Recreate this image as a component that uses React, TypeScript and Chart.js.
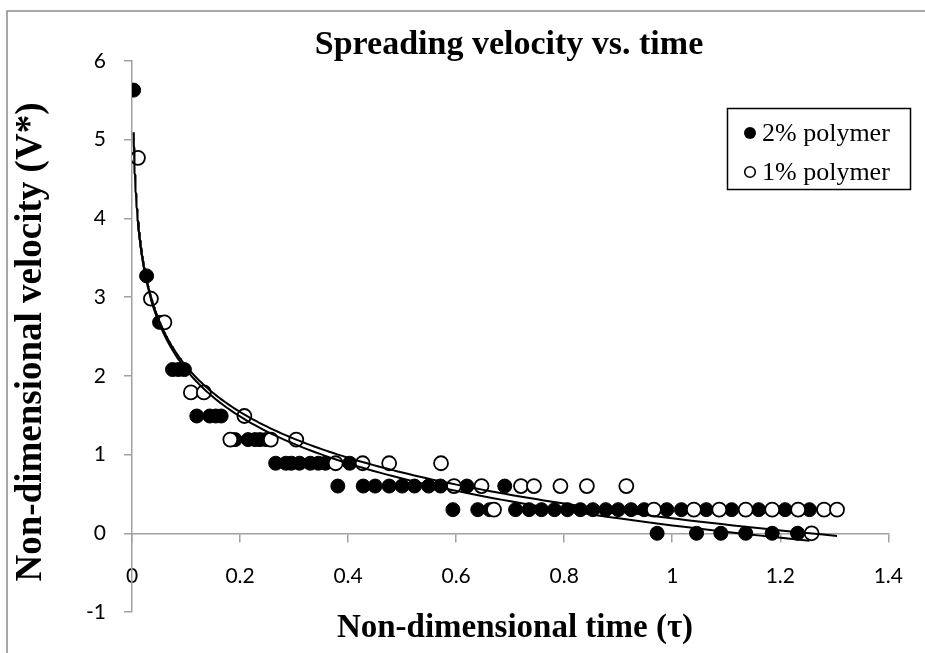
import React, { useEffect, useRef } from "react";
import { Chart, registerables } from "chart.js";

Chart.register(...registerables);

// ---- Data ----
const chartTitle = "Spreading velocity vs. time";
const xAxisTitle = "Non-dimensional time (τ)";
const yAxisTitle = "Non-dimensional velocity (V*)";
const seriesNames = ["2% polymer", "1% polymer"];

const xTickValues = [0, 0.2, 0.4, 0.6, 0.8, 1, 1.2, 1.4];
const yTickValues = [-1, 0, 1, 2, 3, 4, 5, 6];

// 2% polymer (filled)
const poly2X = [
  0.003, 0.027, 0.051, 0.075, 0.086, 0.097, 0.12, 0.144, 0.155, 0.165,
  0.191, 0.215, 0.228, 0.237, 0.248, 0.266, 0.285, 0.295, 0.31, 0.33,
  0.345, 0.358, 0.381, 0.403, 0.428, 0.45, 0.476, 0.5, 0.523, 0.549,
  0.571, 0.594, 0.62, 0.64, 0.662, 0.69, 0.71, 0.735, 0.758, 0.782,
  0.806, 0.83, 0.853, 0.877, 0.9, 0.924, 0.948, 0.972, 0.99, 1.017,
  1.045, 1.063, 1.09, 1.11, 1.136, 1.16, 1.185, 1.209, 1.232, 1.254,
];
const poly2Y = [
  5.63, 3.27, 2.68, 2.08, 2.08, 2.08, 1.49, 1.49, 1.49, 1.49,
  1.19, 1.19, 1.19, 1.19, 1.19, 0.89, 0.89, 0.89, 0.89, 0.89,
  0.89, 0.89, 0.6, 0.89, 0.6, 0.6, 0.6, 0.6, 0.6, 0.6,
  0.6, 0.3, 0.6, 0.3, 0.3, 0.6, 0.3, 0.3, 0.3, 0.3,
  0.3, 0.3, 0.3, 0.3, 0.3, 0.3, 0.3, 0, 0.3, 0.3,
  0, 0.3, 0, 0.3, 0, 0.3, 0, 0.3, 0, 0.3,
];

// 1% polymer (open)
const poly1X = [
  0.011, 0.035, 0.06, 0.109, 0.133, 0.182, 0.208, 0.257, 0.304, 0.377,
  0.427, 0.476, 0.572, 0.596, 0.647, 0.67, 0.72, 0.744, 0.793, 0.842,
  0.915, 0.966, 1.04, 1.087, 1.136, 1.185, 1.233, 1.258, 1.281, 1.305,
];
const poly1Y = [
  4.77, 2.98, 2.68, 1.79, 1.79, 1.19, 1.49, 1.19, 1.19, 0.89,
  0.89, 0.89, 0.89, 0.6, 0.6, 0.3, 0.6, 0.6, 0.6, 0.6,
  0.6, 0.3, 0.3, 0.3, 0.3, 0.3, 0.3, 0, 0.3, 0.3,
];

// Logarithmic trendlines y = a + b ln(x), coefficients
const trend2Coef = { a: 0.1, b: -0.86 };
const trend1Coef = { a: 0.19, b: -0.84 };

// ---- Helpers ----
function toPoints(xs: number[], ys: number[]) {
  return xs.map((x, i) => ({ x, y: ys[i] }));
}

// Trendline drawn over the x range of its series
function logTrend(xs: number[], coef: { a: number; b: number }, samples = 240) {
  const pos = xs.filter((x) => x > 0);
  const min = Math.min(...pos);
  const max = Math.max(...pos);
  const pts: { x: number; y: number }[] = [];
  for (let k = 0; k <= samples; k++) {
    const x = min * Math.pow(max / min, k / samples);
    pts.push({ x, y: coef.a + coef.b * Math.log(x) });
  }
  return pts;
}

const SERIF = '"Liberation Serif", "Times New Roman", serif';
const SANS = 'Lato, "Open Sans", sans-serif';

const decorPlugin = {
  id: "decor",
  beforeDraw(chart: any) {
    const ctx = chart.ctx;
    ctx.save();
    ctx.fillStyle = "#ffffff";
    ctx.fillRect(0, 0, chart.width, chart.height);
    ctx.strokeStyle = "#8c8c8c";
    ctx.lineWidth = 1.5;
    ctx.strokeRect(7, 11, chart.width + 20, chart.height + 20);
    ctx.restore();
  },
  afterDraw(chart: any) {
    const ctx = chart.ctx;
    ctx.save();
    ctx.fillStyle = "#000";
    ctx.textAlign = "center";
    ctx.textBaseline = "middle";
    // Title
    ctx.font = `bold 34px ${SERIF}`;
    ctx.fillText(chartTitle, 509, 45);
    // X axis title
    ctx.font = `bold 33px ${SERIF}`;
    ctx.fillText(xAxisTitle, 515, 628);
    // Y axis title
    ctx.save();
    ctx.translate(31, 342);
    ctx.rotate(-Math.PI / 2);
    ctx.font = `bold 37px ${SERIF}`;
    ctx.fillText(yAxisTitle, 0, 0);
    ctx.restore();

    // Legend
    const lx = 727, ly = 108, lw = 183, lh = 81;
    ctx.fillStyle = "#fff";
    ctx.fillRect(lx, ly, lw, lh);
    ctx.strokeStyle = "#000";
    ctx.lineWidth = 1.5;
    ctx.strokeRect(lx + 0.5, ly + 0.5, lw, lh);
    ctx.font = `26px ${SERIF}`;
    ctx.textAlign = "left";
    ctx.fillStyle = "#000";
    ctx.beginPath();
    ctx.arc(750, 133, 6, 0, Math.PI * 2);
    ctx.fill();
    ctx.fillText(seriesNames[0], 762, 134);
    ctx.beginPath();
    ctx.arc(750, 172, 5.3, 0, Math.PI * 2);
    ctx.fillStyle = "#fff";
    ctx.fill();
    ctx.lineWidth = 1.6;
    ctx.strokeStyle = "#000";
    ctx.stroke();
    ctx.fillStyle = "#000";
    ctx.fillText(seriesNames[1], 762, 173);
    ctx.restore();
  },
};

export default function App() {
  const canvasRef = useRef<HTMLCanvasElement | null>(null);

  useEffect(() => {
    const canvas = canvasRef.current;
    if (!canvas) return;
    const axisColor = "#a0a0a0";
    const chart = new Chart(canvas, {
      type: "scatter",
      data: {
        datasets: [
          {
            type: "line",
            label: "trend 2%",
            data: logTrend(poly2X, trend2Coef),
            borderColor: "#000",
            borderWidth: 2,
            pointRadius: 0,
            tension: 0,
            fill: false,
          },
          {
            type: "line",
            label: "trend 1%",
            data: logTrend(poly1X, trend1Coef),
            borderColor: "#000",
            borderWidth: 2,
            pointRadius: 0,
            tension: 0,
            fill: false,
          },
          {
            label: seriesNames[1],
            data: toPoints(poly1X, poly1Y),
            backgroundColor: "#fff",
            borderColor: "#000",
            borderWidth: 1.8,
            pointRadius: 7,
            showLine: false,
          },
          {
            label: seriesNames[0],
            data: toPoints(poly2X, poly2Y),
            backgroundColor: "#000",
            borderColor: "#000",
            borderWidth: 1,
            pointRadius: 7,
            showLine: false,
          },
        ],
      } as any,
      options: {
        responsive: false,
        animation: false,
        layout: { padding: { left: 0, right: 26, top: 61, bottom: 41 } },
        plugins: {
          legend: { display: false },
          title: { display: false },
          tooltip: { enabled: false },
        },
        scales: {
          x: {
            type: "linear",
            min: 0,
            max: 1.4,
            position: { y: 0 } as any,
            afterBuildTicks: (axis: any) => {
              axis.ticks = xTickValues.map((v) => ({ value: v }));
            },
            ticks: {
              autoSkip: false,
              maxRotation: 0,
              color: "#000",
              padding: 22,
              font: { family: SANS, size: 21 },
              callback: (v: any) => String(Math.round(Number(v) * 10) / 10),
            },
            grid: {
              drawOnChartArea: false,
              drawTicks: true,
              tickLength: 8,
              color: axisColor,
              lineWidth: 1.5,
            },
            border: { display: true, color: axisColor, width: 1.5 },
          },
          y: {
            type: "linear",
            min: -1,
            max: 6,
            position: "left",
            afterFit: (scale: any) => {
              scale.width = 132;
            },
            afterBuildTicks: (axis: any) => {
              axis.ticks = yTickValues.map((v) => ({ value: v }));
            },
            ticks: {
              autoSkip: false,
              color: "#000",
              padding: 18,
              font: { family: SANS, size: 21 },
              callback: (v: any) => String(v),
            },
            grid: {
              drawOnChartArea: false,
              drawTicks: true,
              tickLength: 8,
              color: axisColor,
              lineWidth: 1.5,
            },
            border: { display: true, color: axisColor, width: 1.5 },
          },
        },
      },
      plugins: [decorPlugin],
    });
    return () => chart.destroy();
  }, []);

  return (
    <div style={{ position: "fixed", left: 0, top: 0, width: 925, height: 653 }}>
      <canvas ref={canvasRef} width={925} height={653} style={{ display: "block" }} />
    </div>
  );
}
